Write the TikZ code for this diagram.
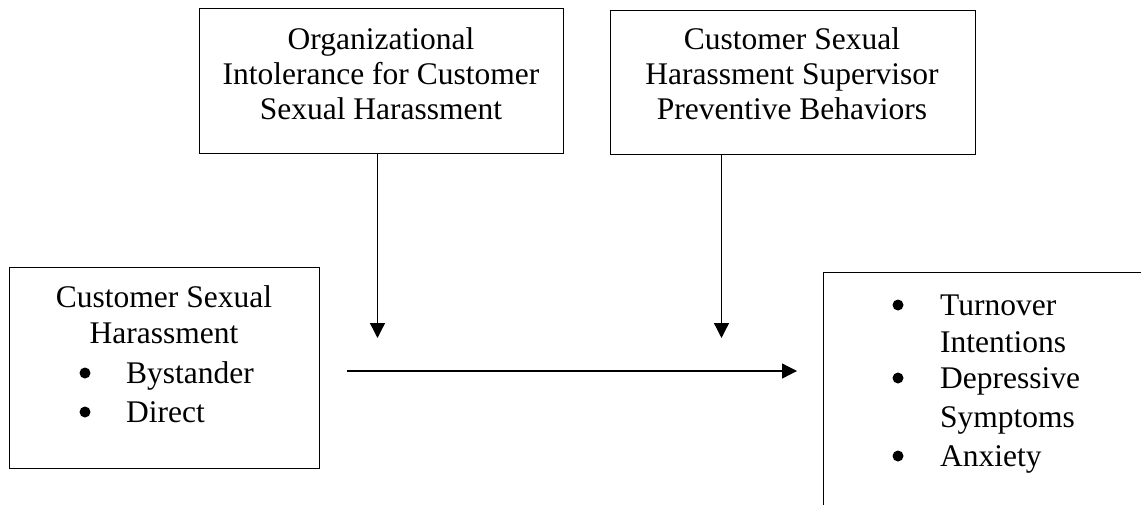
\documentclass[tikz,border=0pt]{standalone}
\usepackage{fontspec}
\setmainfont{Liberation Serif}
\usetikzlibrary{arrows.meta}

\begin{document}
\begin{tikzpicture}[x=1pt,y=-1pt,
  box/.style={draw, line width=1.3pt, rectangle, inner sep=0pt, anchor=north west},
  txt/.style={font=\fontsize{31.5}{35}\selectfont, inner sep=0pt, anchor=base},
  ltxt/.style={txt, anchor=base west},
  dot/.style={circle, fill, inner sep=0pt, minimum size=11pt},
  flow/.style={line width=1.3pt, -{Triangle[length=15pt,width=15pt]}}]

\useasboundingbox (0,0) rectangle (1141,504);
\clip (0,0) rectangle (1141,504);

% boxes
\node[box, minimum width=364pt, minimum height=145pt] (org) at (199,8) {};
\node[box, minimum width=365pt, minimum height=144pt] (sup) at (610,10) {};
\node[box, minimum width=310pt, minimum height=201pt] (csh) at (9,267) {};
\node[box, minimum width=340pt, minimum height=260pt] (out) at (823,272) {};

% moderator texts
\node[txt] (o1) at (381,49.5) {Organizational};
\node[txt] (o2) at (381,84) {Intolerance for Customer};
\node[txt] (o3) at (381,119) {Sexual Harassment};

\node[txt] (s1) at (792,49.5) {Customer Sexual};
\node[txt] (s2) at (792,84.5) {Harassment Supervisor};
\node[txt] (s3) at (792,119.5) {Preventive Behaviors};

% predictor
\node[txt] (c1) at (164,307) {Customer Sexual};
\node[txt] (c2) at (164,343) {Harassment};
\node[dot] (cb1) at (85,373) {};
\node[ltxt] (c3) at (126,383) {Bystander};
\node[dot] (cb2) at (85,412) {};
\node[ltxt] (c4) at (126,422) {Direct};

% outcomes
\node[dot] (ub1) at (898,305) {};
\node[ltxt] (u1) at (940,315) {Turnover};
\node[ltxt] (u2) at (940,352) {Intentions};
\node[dot] (ub2) at (898,378) {};
\node[ltxt] (u3) at (940,388) {Depressive};
\node[ltxt] (u4) at (940,427) {Symptoms};
\node[dot] (ub3) at (898,456) {};
\node[ltxt] (u5) at (940,466) {Anxiety};

% connectors
\coordinate (m1) at (377.5,338);
\coordinate (m2) at (721.5,338);
\coordinate (hs) at (347,371);
\coordinate (he) at (797,371);
\draw[flow] (org.south -| m1) -- (m1);
\draw[flow] (sup.south -| m2) -- (m2);
\draw[flow] (hs) -- (he);
\end{tikzpicture}
\end{document}
